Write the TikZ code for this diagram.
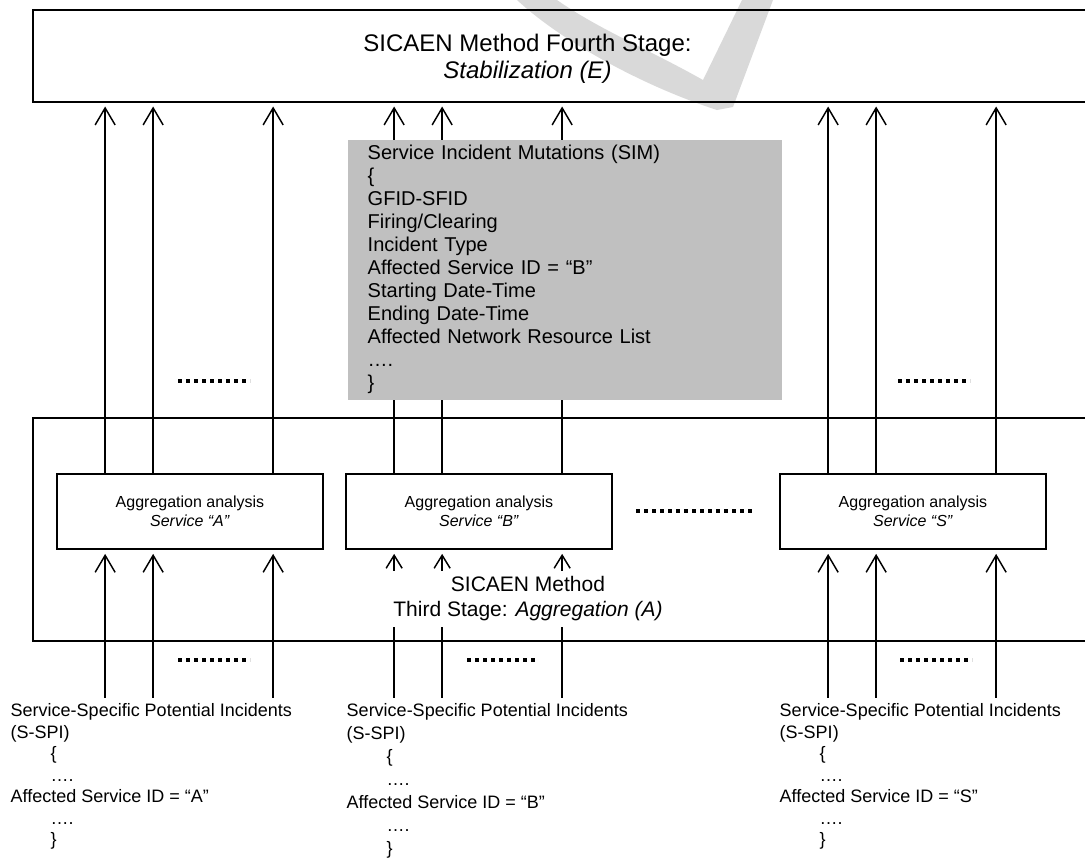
\documentclass[tikz,border=0pt]{standalone}
\usepackage{fontspec}
\setmainfont{Liberation Sans}
\usetikzlibrary{arrows.meta, calc, positioning}
\tikzset{>={Straight Barb[length=12.75pt,width=15pt]}}
\definecolor{simgray}{HTML}{C0C0C0}
\tikzset{
  stage/.style={draw, line width=1.5pt, inner sep=0pt, minimum width=800.25pt},
  aggbox/.style={draw, line width=1.3pt, minimum width=199.5pt, minimum height=56.25pt, align=center, font=\fontsize{12}{14.25}\selectfont},
  spi/.style={anchor=north west, inner sep=0pt, align=left, font=\fontsize{13.5}{16.1}\selectfont},
  dotrow/.style={line width=3pt, dash pattern=on 3pt off 3pt}
}

\begin{document}
\begin{tikzpicture}[x=0.75pt, y=-0.75pt, line width=1.1pt]
  \useasboundingbox (0,0) rectangle (1085,858);
  \fill[gray!30] (517,0) .. controls (560,40) and (640,85) .. (717,110) -- (733,107) -- (773,0) -- (742,0) -- (703,80) .. controls (650,50) and (600,30) .. (557,0) -- cycle;
  \node[stage, minimum height=69pt] (stab) at (566.5,55.5) {};
  \node[align=center, font=\fontsize{18}{20.25}\selectfont] (stabtxt) at (527.5,59) {SICAEN Method Fourth Stage:\\\textit{Stabilization (E)}};
  \node[stage, minimum height=167.6pt] (aggr) at (566.5,529.75) {};
  \node[aggbox] (aggA) at (190,511.5) {Aggregation analysis\\\textit{Service “A”}};
  \node[aggbox] (aggB) at (479,511.5) {Aggregation analysis\\\textit{Service “B”}};
  \node[aggbox] (aggS) at (913,511.5) {Aggregation analysis\\\textit{Service “S”}};
  \foreach \b in {aggA,aggB,aggS}
    \foreach \dx in {49,97,217}{
      \path ($(\b.north west)+(\dx,0)$) coordinate (up);
      \draw[->, shorten >=3pt] (up) -- (up |- stab.south);
    }
  \foreach \b in {aggA,aggS}
    \foreach \dx in {49,97,217}{
      \path ($(\b.south west)+(\dx,148)$) coordinate (in);
      \draw[->, shorten >=3pt] (in) -- (in |- \b.south);
    }
  \foreach \dx in {49,97,217}{
    \path ($(aggB.south west)+(\dx,148)$) coordinate (in);
    \draw[-{Straight Barb[length=9.75pt,width=12pt]}, shorten >=3pt] (in) -- (in |- aggB.south);
  }
  \node[fill=white, align=center, inner xsep=3pt, inner ysep=4pt, font=\fontsize{15.75}{18.75}\selectfont] (aggrtxt) at (528,599) {SICAEN Method\\Third Stage: \textit{Aggregation (A)}};
  \node[fill=simgray, anchor=north west, minimum width=325.5pt, minimum height=195pt, text width=295.5pt, inner xsep=15pt, inner ysep=2pt, align=left, font=\fontsize{15}{17.25}\selectfont] (sim) at (347,139) {Service Incident Mutations (SIM)\\\{\\GFID-SFID\\Firing/Clearing\\Incident Type\\Affected Service ID = “B”\\Starting Date-Time\\Ending Date-Time\\Affected Network Resource List\\….\\\}};
  \draw[dotrow] (178,381) -- (250,381);
  \draw[dotrow] (898,381) -- (970,381);
  \draw[dotrow] (636,511) -- (755,511);
  \draw[dotrow] (178,660) -- (250,660);
  \draw[dotrow] (467,660) -- (536,660);
  \draw[dotrow] (900,660) -- (972,660);
  \node[spi] (spiA) at (10,703) {Service-Specific Potential Incidents\\(S-SPI)\\\hspace*{30pt}\{\\\hspace*{30pt}….\\Affected Service ID = “A”\\\hspace*{30pt}….\\\hspace*{30pt}\}};
  \node[spi, font=\fontsize{13.5}{17.25}\selectfont] (spiB) at (346,703) {Service-Specific Potential Incidents\\(S-SPI)\\\hspace*{30pt}\{\\\hspace*{30pt}….\\Affected Service ID = “B”\\\hspace*{30pt}….\\\hspace*{30pt}\}};
  \node[spi] (spiS) at (779,703) {Service-Specific Potential Incidents\\(S-SPI)\\\hspace*{30pt}\{\\\hspace*{30pt}….\\Affected Service ID = “S”\\\hspace*{30pt}….\\\hspace*{30pt}\}};
\end{tikzpicture}
\end{document}
